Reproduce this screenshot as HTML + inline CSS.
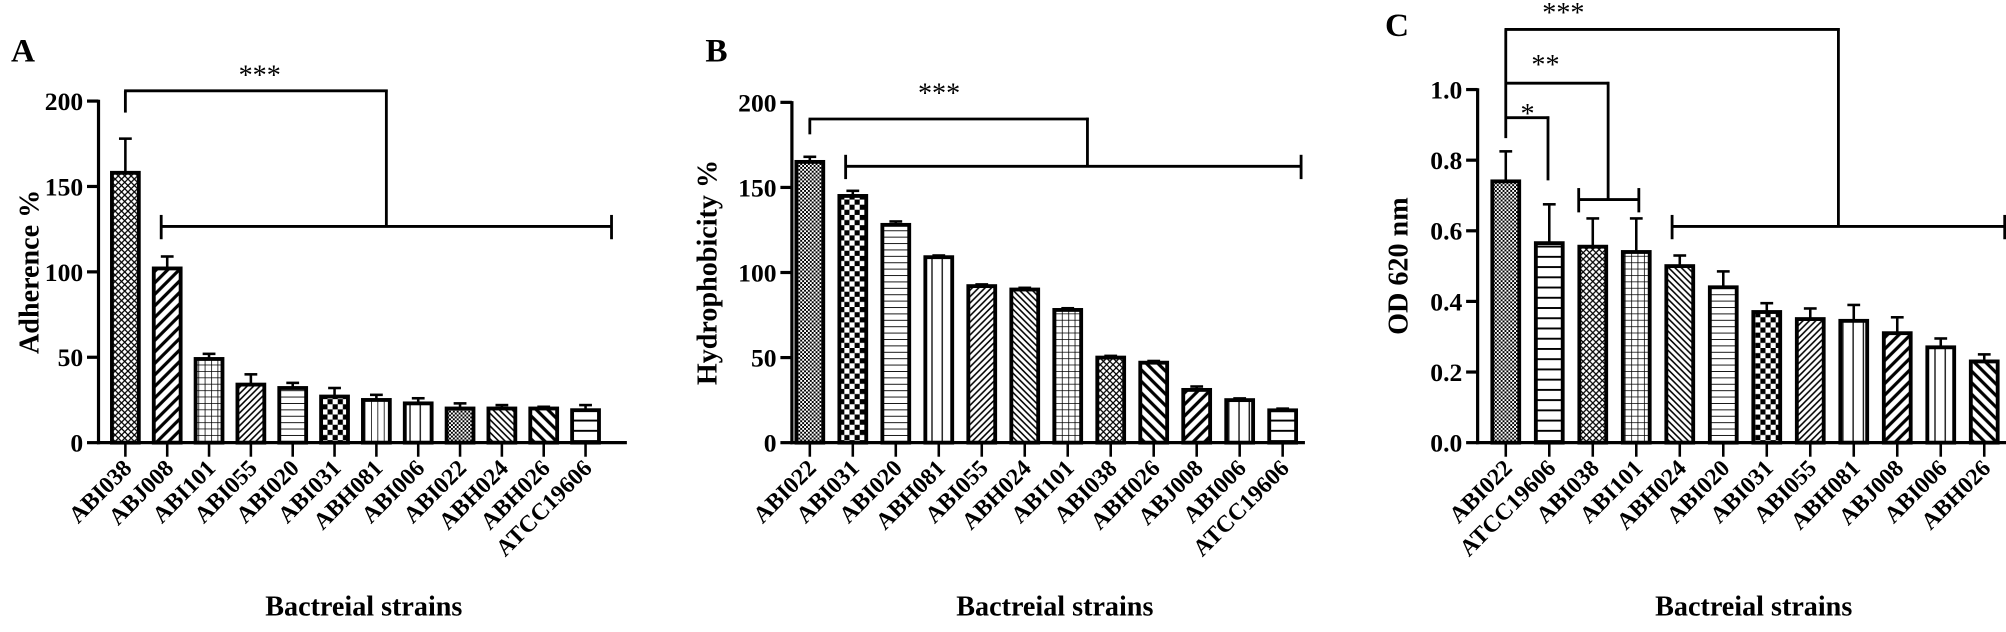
<!DOCTYPE html>
<html><head><meta charset="utf-8"><style>
html,body{margin:0;padding:0;background:#fff;}
svg{display:block;font-family:"Liberation Serif",serif;font-weight:bold;}
</style></head><body>
<svg id="s" width="2006" height="632" viewBox="0 0 1568 494" xmlns="http://www.w3.org/2000/svg">
<defs>
<pattern id="p_cross" width="5" height="5" patternUnits="userSpaceOnUse"><path d="M0,5L5,0M0,0L5,5" stroke="#000" stroke-width="1"/></pattern>
<pattern id="p_diag" width="9" height="9" patternUnits="userSpaceOnUse"><path d="M-2,11L11,-2M-2,2L2,-2M7,11L11,7" stroke="#000" stroke-width="2.5"/></pattern>
<pattern id="p_diagt" width="5" height="5" patternUnits="userSpaceOnUse"><path d="M-1,6L6,-1M-1,1L1,-1M4,6L6,4" stroke="#000" stroke-width="1.2"/></pattern>
<pattern id="p_bdiag" width="9" height="9" patternUnits="userSpaceOnUse"><path d="M-2,-2L11,11M-2,7L2,11M7,-2L11,2" stroke="#000" stroke-width="2.5"/></pattern>
<pattern id="p_bdiagt" width="5" height="5" patternUnits="userSpaceOnUse"><path d="M-1,-1L6,6M-1,4L1,6M4,-1L6,1" stroke="#000" stroke-width="1.2"/></pattern>
<pattern id="p_grid" width="5" height="5" patternUnits="userSpaceOnUse"><path d="M0,0H5M0,0V5" stroke="#000" stroke-width="1.2"/></pattern>
<pattern id="p_hor" width="5" height="5" patternUnits="userSpaceOnUse"><path d="M0,0H5" stroke="#000" stroke-width="1.4"/></pattern>
<pattern id="p_horw" width="8" height="8" patternUnits="userSpaceOnUse"><path d="M0,0H8" stroke="#000" stroke-width="3"/></pattern>
<pattern id="p_vert" width="5" height="5" patternUnits="userSpaceOnUse"><path d="M0,0V5" stroke="#000" stroke-width="1.2"/></pattern>
<pattern id="p_vertw" width="8" height="8" patternUnits="userSpaceOnUse"><path d="M0,0V8" stroke="#000" stroke-width="2"/></pattern>
<pattern id="p_check" width="8" height="8" patternUnits="userSpaceOnUse"><rect width="4" height="4"/><rect x="4" y="4" width="4" height="4"/></pattern>
<pattern id="p_dots" width="3" height="3" patternUnits="userSpaceOnUse"><rect width="1.5" height="1.5"/><rect x="1.5" y="1.5" width="1.5" height="1.5"/></pattern>
</defs>
<g id="g"></g>
</svg>
<script>
const g=document.getElementById('g');let h='';
function L(x1,y1,x2,y2,w){h+=`<line x1="${x1}" y1="${y1}" x2="${x2}" y2="${y2}" stroke="#000" stroke-width="${w||2.2}"/>`;}
function T(x,y,t,fs,a,tr,fw){h+=`<text x="${x}" y="${y}" font-size="${fs}" text-anchor="${a||'middle'}" ${fw?`font-weight="${fw}"`:''} ${tr?`transform="${tr}"`:''}>${t}</text>`;}
function S(x,y,t){T(x,y,t,22,'middle','', 'normal');}
function panel(o){
 const {ax,y0,ytop,vmax,ticks,fmt,x0,dx,xend,data,names,pats,ytitle,yt,letter,lx,ly}=o;
 const sc=(y0-ytop)/vmax;
 data.forEach((d,i)=>{const cx=x0+i*dx,bw=21;const yb=y0-d[0]*sc,ye=y0-d[1]*sc;
  L(cx,yb,cx,ye,2);L(cx-5,ye,cx+5,ye,2);
  h+=`<rect x="${cx-bw/2}" y="${yb}" width="${bw}" height="${y0-yb}" fill="url(#p_${pats[i]})" stroke="#000" stroke-width="3"/>`;
  L(cx,y0,cx,y0+11,2);
  T(cx+6,y0+21,names[i],18.5,'end',`rotate(-45 ${cx+6} ${y0+21})`);
 });
 L(ax,ytop-1,ax,y0+1.2,2.5);L(ax-1.2,y0,xend,y0,2.5);
 ticks.forEach(t=>{const y=y0-t*sc;L(ax-9,y,ax,y,2.5);T(ax-12,y+7,fmt(t),20,'end');});
 T(yt,(ytop+y0)/2,ytitle,22,'middle',`rotate(-90 ${yt} ${(ytop+y0)/2})`);
 T(x0+dx*5.7,481,'Bactreial strains',22);
 T(lx,ly,letter,26,'middle');
}
panel({ax:77,y0:346,ytop:79,vmax:200,ticks:[0,50,100,150,200],fmt:t=>t,x0:98,dx:32.7,xend:490,
 data:[[158,178],[102,109],[49,52],[34,40],[32,35],[27,32],[25,28],[23,26],[20,23],[20,22],[20,21],[19,22]],
 names:['ABI038','ABJ008','ABI101','ABI055','ABI020','ABI031','ABH081','ABI006','ABI022','ABH024','ABH026','ATCC19606'],
 pats:['cross','diag','grid','diagt','hor','check','vert','vertw','dots','bdiagt','bdiag','horw'],ytitle:'Adherence %',yt:30,letter:'A',lx:18,ly:48});
L(98,88,98,71);L(97,71,303,71);L(302,70,302,177);L(126,177,478,177);L(126,168,126,187);L(478,168,478,187);S(203,66,'***');
panel({ax:619,y0:346,ytop:80,vmax:200,ticks:[0,50,100,150,200],fmt:t=>t,x0:633,dx:33.6,xend:1020,
 data:[[165,168],[145,148],[128,130],[109,110],[92,93],[90,91],[78,79],[50,51],[47,48],[31,33],[25,26],[19,20]],
 names:['ABI022','ABI031','ABI020','ABH081','ABI055','ABH024','ABI101','ABI038','ABH026','ABJ008','ABI006','ATCC19606'],
 pats:['dots','check','hor','vertw','diagt','bdiagt','grid','cross','bdiag','diag','vertw','horw'],ytitle:'Hydrophobicity %',yt:560,letter:'B',lx:560,ly:48});
L(633,105,633,93);L(632,93,851,93);L(850,92,850,130);L(661,130,1017,130);L(661,121,661,140);L(1017,121,1017,140);S(734,80,'***');
panel({ax:1155,y0:346,ytop:70,vmax:1.0,ticks:[0,.2,.4,.6,.8,1.0],fmt:t=>t.toFixed(1),x0:1177,dx:34,xend:1568,
 data:[[.74,.825],[.565,.675],[.555,.635],[.54,.635],[.50,.53],[.44,.485],[.37,.395],[.35,.38],[.345,.39],[.31,.355],[.27,.295],[.23,.25]],
 names:['ABI022','ATCC19606','ABI038','ABI101','ABH024','ABI020','ABI031','ABI055','ABH081','ABJ008','ABI006','ABH026'],
 pats:['dots','horw','cross','grid','bdiagt','hor','check','diagt','vertw','diag','vertw','bdiag'],ytitle:'OD 620 nm',yt:1100,letter:'C',lx:1092,ly:28});
L(1177,108,1177,23);L(1176,23,1438,23);L(1437,22,1437,177);L(1307,177,1568,177);L(1307,168,1307,187);L(1567,168,1567,187);S(1222,17,'***');
L(1177,65,1258,65);L(1257,64,1257,156);L(1234,156,1281,156);L(1234,147,1234,166);L(1281,147,1281,166);S(1208,58,'**');
L(1177,92,1211,92);L(1210,91,1210,141);S(1194,96,'*');
g.innerHTML=h;
</script>
</body></html>
